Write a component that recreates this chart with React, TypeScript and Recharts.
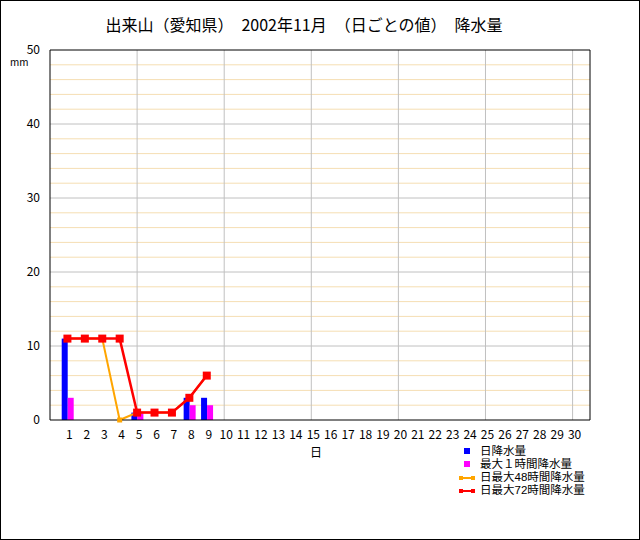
import { Bar, CartesianGrid, ComposedChart, Line, ReferenceLine, XAxis, YAxis } from "recharts";

document.body.style.margin = "0";

const days = Array.from({ length: 30 }, (_, i) => i + 1);
const dailyRain = [11, 0, 0, 0, 1, 0, 0, 3, 3];
const max1h = [3, 0, 0, 0, 1, 0, 0, 2, 2];
const max48h = [11, 11, 11, 0, 1, 1, 1, 3, 6];
const max72h = [11, 11, 11, 11, 1, 1, 1, 3, 6];
const yTicks = [0, 10, 20, 30, 40, 50];
const minorGrid = [2, 4, 6, 8, 12, 14, 16, 18, 22, 24, 26, 28, 32, 34, 36, 38, 42, 44, 46, 48];
const majorGrid = [10, 20, 30, 40];
const dayGrid = [5, 10, 15, 20, 25, 30];
const Y_MAX = 50;
const X_MAX = 31;

const data = days.map((d, i) => ({
    day: d,
    daily: dailyRain[i] ?? null,
    h1: max1h[i] ?? null,
    h48: max48h[i] ?? null,
    h72: max72h[i] ?? null,
}));

const FONT = "'Noto Sans CJK JP', sans-serif";
// latin first so the line boxes stay short, CJK glyphs fall back to Noto
const LEGEND_FONT = "'Liberation Sans', 'Noto Sans CJK JP', sans-serif";

const SquareDot = (size: number, color: string) => (props: any) => {
    const { cx, cy, index } = props;
    if (cx == null || cy == null || props.value == null) return <g key={index} />;
    return <rect key={index} x={cx - size / 2} y={cy - size / 2} width={size} height={size} fill={color} />;
};

// grid lines go under the bars, so they are drawn with CartesianGrid rather than ReferenceLine
const yGen = (vals: number[]) => ({ offset }: any) =>
    vals.map((v) => offset.top + offset.height * (1 - v / Y_MAX));
const xGen = (vals: number[]) => ({ offset }: any) =>
    vals.map((v) => offset.left + (offset.width * v) / X_MAX);

const legendItems = [
    { label: "日降水量", color: "#0000ff", kind: "box" },
    { label: "最大１時間降水量", color: "#ff00ff", kind: "box" },
    { label: "日最大48時間降水量", color: "#ffa500", kind: "line" },
    { label: "日最大72時間降水量", color: "#ff0000", kind: "line" },
];

export default function App() {
    return (
        <div style={{ position: "relative", width: 640, height: 540, background: "#fff", fontFamily: FONT }}>
            <ComposedChart
                width={640}
                height={540}
                data={data}
                margin={{ top: 50, right: 50, bottom: 90, left: 10 }}
                barGap={0}
            >
                <CartesianGrid
                    vertical={false}
                    stroke="#f5deb3"
                    horizontalCoordinatesGenerator={yGen(minorGrid)}
                />
                <CartesianGrid
                    stroke="#c0c0c0"
                    horizontalCoordinatesGenerator={yGen(majorGrid)}
                    verticalCoordinatesGenerator={xGen(dayGrid)}
                />
                <XAxis
                    dataKey="day"
                    type="number"
                    domain={[0, X_MAX]}
                    ticks={days}
                    interval={0}
                    tickLine={false}
                    axisLine={{ stroke: "#000" }}
                    height={30}
                    tick={{ fill: "#000", fontSize: 12, fontFamily: FONT, dx: 2, dy: 2 }}
                />
                <YAxis
                    domain={[0, Y_MAX]}
                    ticks={yTicks}
                    width={40}
                    tickLine={false}
                    axisLine={{ stroke: "#000" }}
                    tick={{ fill: "#000", fontSize: 12, fontFamily: FONT, dx: -2 }}
                />
                <ReferenceLine y={Y_MAX} stroke="#000" />
                <ReferenceLine x={X_MAX} stroke="#000" />
                <Bar dataKey="daily" fill="#0000ff" barSize={6} isAnimationActive={false} />
                <Bar dataKey="h1" fill="#ff00ff" barSize={6} isAnimationActive={false} />
                <Line
                    dataKey="h48"
                    stroke="#ffa500"
                    strokeWidth={2}
                    dot={SquareDot(5, "#ffa500")}
                    activeDot={false}
                    isAnimationActive={false}
                />
                <Line
                    dataKey="h72"
                    stroke="#ff0000"
                    strokeWidth={2.5}
                    dot={SquareDot(8, "#ff0000")}
                    activeDot={false}
                    isAnimationActive={false}
                />
            </ComposedChart>

            <div style={{ position: "absolute", top: 12, left: 0, width: 608, textAlign: "center", fontSize: 16 }}>
                出来山（愛知県）　2002年11月　（日ごとの値）　降水量
            </div>
            <div style={{ position: "absolute", top: 54, left: 10, fontSize: 10 }}>mm</div>
            <div style={{ position: "absolute", top: 443, left: 310, fontSize: 12 }}>日</div>

            <div style={{ position: "absolute", top: 445, left: 458, fontSize: 11.5, fontFamily: LEGEND_FONT }}>
                {legendItems.map((it) => (
                    <div key={it.label} style={{ display: "flex", alignItems: "center", height: 13, lineHeight: "13px" }}>
                        <svg width={20} height={13}>
                            {it.kind === "box" ? (
                                <rect x={6} y={3} width={6} height={6} fill={it.color} />
                            ) : (
                                <g>
                                    <line x1={2} y1={7} x2={16} y2={7} stroke={it.color} strokeWidth={2} />
                                    <rect x={1} y={5} width={4} height={4} fill={it.color} />
                                    <rect x={13} y={5} width={4} height={4} fill={it.color} />
                                </g>
                            )}
                        </svg>
                        <span style={{ marginLeft: 2 }}>{it.label}</span>
                    </div>
                ))}
            </div>

            <div style={{ position: "absolute", inset: 0, border: "1px solid #000", pointerEvents: "none" }} />
        </div>
    );
}
